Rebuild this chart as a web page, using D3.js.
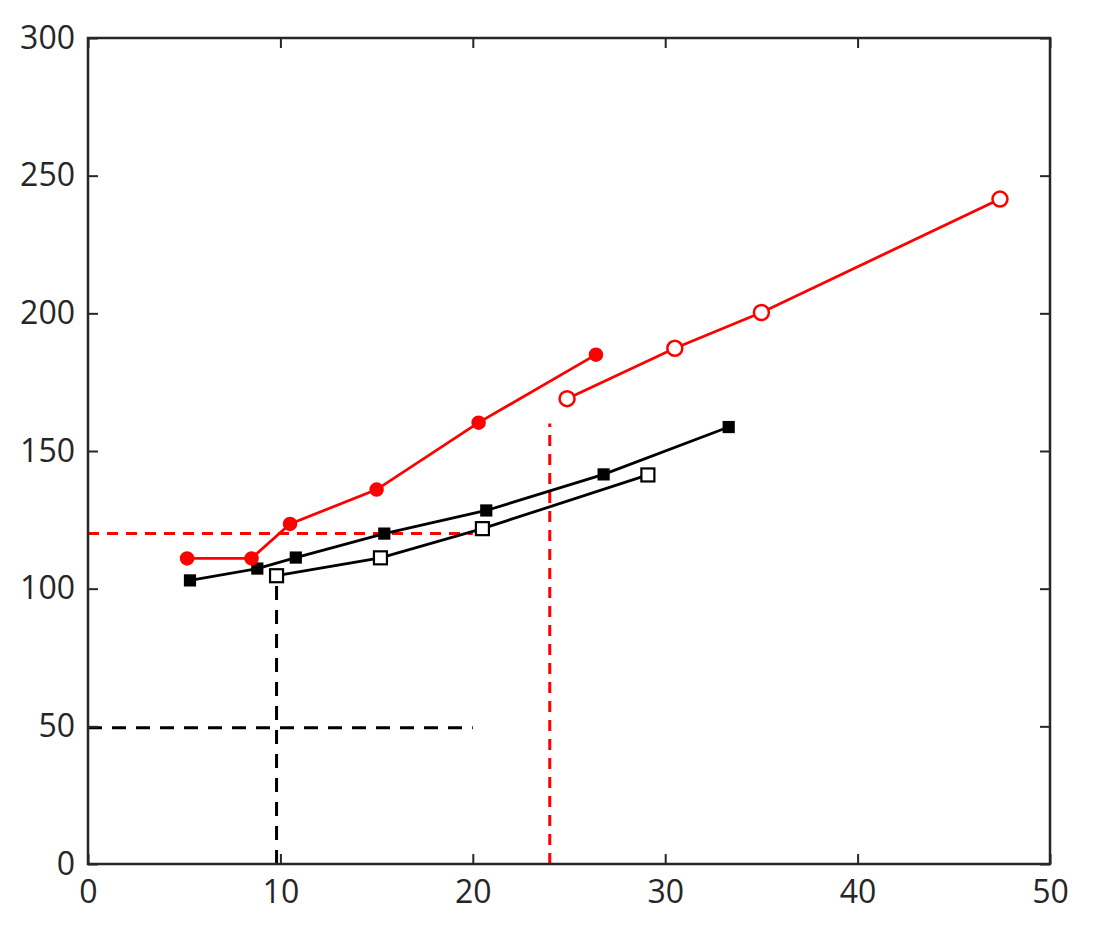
<!DOCTYPE html>
<html><head><meta charset="utf-8">
<script src="https://cdn.jsdelivr.net/npm/d3@7"></script>
<style>body{margin:0;background:#fff}svg{display:block}</style>
</head><body>
<script>
const xTicks = [0,10,20,30,40,50];
const yTicks = [0,50,100,150,200,250,300];
const redFilledX = [5.15, 8.5, 10.5, 15.0, 20.3, 26.4];
const redFilledY = [111, 111, 123.5, 136, 160.3, 185];
const redOpenX = [24.9, 30.5, 35.0, 47.4];
const redOpenY = [169, 187.3, 200.3, 241.5];
const blackFilledX = [5.3, 8.8, 10.8, 15.4, 20.7, 26.8, 33.3];
const blackFilledY = [103, 107.3, 111.3, 120, 128.4, 141.5, 158.7];
const blackOpenX = [9.8, 15.2, 20.5, 29.1];
const blackOpenY = [104.7, 111.2, 121.8, 141.3];
const refRedH = {x0:0, x1:20, y:120};
const refRedV = {x:24, y0:0, y1:160};
const refBlackH = {x0:0, x1:20, y:49.5};
const refBlackV = {x:9.8, y0:0, y1:103};

const W=1096,H=940, L=88, R=1050, T=38, B=864;
const svg=d3.select("body").append("svg").attr("width",W).attr("height",H);
const x=d3.scaleLinear().domain([0,50]).range([L,R]);
const y=d3.scaleLinear().domain([0,300]).range([B,T]);
const zip=(a,b)=>a.map((v,i)=>[v,b[i]]);
const line=d3.line().x(d=>x(d[0])).y(d=>y(d[1]));

function dash(x0,y0,x1,y1,col,da){
  svg.append("line").attr("x1",x(x0)).attr("y1",y(y0)).attr("x2",x(x1)).attr("y2",y(y1))
    .attr("stroke",col).attr("stroke-width",3).attr("stroke-dasharray",da);
}
dash(refRedH.x0,refRedH.y,refRedH.x1,refRedH.y,"#ff0000","11 8");
dash(refRedV.x,refRedV.y0,refRedV.x,refRedV.y1,"#ff0000","11 8");
dash(refBlackH.x0,refBlackH.y,refBlackH.x1,refBlackH.y,"#000","14 10");
dash(refBlackV.x,refBlackV.y0,refBlackV.x,refBlackV.y1,"#000","14 10");

const series=[
 {d:zip(blackFilledX,blackFilledY),c:"#000",m:"sq",fill:true},
 {d:zip(blackOpenX,blackOpenY),c:"#000",m:"sq",fill:false},
 {d:zip(redFilledX,redFilledY),c:"#ff0000",m:"ci",fill:true},
 {d:zip(redOpenX,redOpenY),c:"#ff0000",m:"ci",fill:false},
];
series.forEach(s=>{
  svg.append("path").attr("d",line(s.d)).attr("fill","none").attr("stroke",s.c).attr("stroke-width",2.8);
});
series.forEach(s=>{
  const g=svg.append("g");
  if(s.m==="sq"){
    const sz=s.fill?10:13;
    g.selectAll("rect").data(s.d).join("rect")
     .attr("x",d=>x(d[0])-sz/2).attr("y",d=>y(d[1])-sz/2).attr("width",sz).attr("height",sz)
     .attr("fill",s.fill?s.c:"#fff").attr("stroke",s.c).attr("stroke-width",2.2);
  } else {
    const r=s.fill?6:7.5;
    g.selectAll("circle").data(s.d).join("circle")
     .attr("cx",d=>x(d[0])).attr("cy",d=>y(d[1])).attr("r",r)
     .attr("fill",s.fill?s.c:"#fff").attr("stroke",s.c).attr("stroke-width",2.5);
  }
});

const ac="#262626";
svg.append("rect").attr("x",L).attr("y",T).attr("width",R-L).attr("height",B-T)
  .attr("fill","none").attr("stroke",ac).attr("stroke-width",2.5);
const tl=10;
const font="'Open Sans',sans-serif", fs="32px";
svg.append("g").attr("transform",`translate(0,${B})`).call(d3.axisBottom(x).tickValues(xTicks).tickSizeInner(-tl).tickSizeOuter(0).tickPadding(16))
 .call(g=>{g.select(".domain").remove();g.selectAll("line").attr("stroke",ac).attr("stroke-width",2);
   g.selectAll("text").attr("fill",ac).style("font-family",font).style("font-size",fs);});
svg.append("g").attr("transform",`translate(0,${T})`).call(d3.axisTop(x).tickValues(xTicks).tickSizeInner(-tl).tickSizeOuter(0).tickFormat(""))
 .call(g=>{g.select(".domain").remove();g.selectAll("line").attr("stroke",ac).attr("stroke-width",2);});
svg.append("g").attr("transform",`translate(${L},0)`).call(d3.axisLeft(y).tickValues(yTicks).tickSizeInner(-tl).tickSizeOuter(0).tickPadding(13))
 .call(g=>{g.select(".domain").remove();g.selectAll("line").attr("stroke",ac).attr("stroke-width",2);
   g.selectAll("text").attr("fill",ac).style("font-family",font).style("font-size",fs);});
svg.append("g").attr("transform",`translate(${R},0)`).call(d3.axisRight(y).tickValues(yTicks).tickSizeInner(-tl).tickSizeOuter(0).tickFormat(""))
 .call(g=>{g.select(".domain").remove();g.selectAll("line").attr("stroke",ac).attr("stroke-width",2);});
</script>
</body></html>
